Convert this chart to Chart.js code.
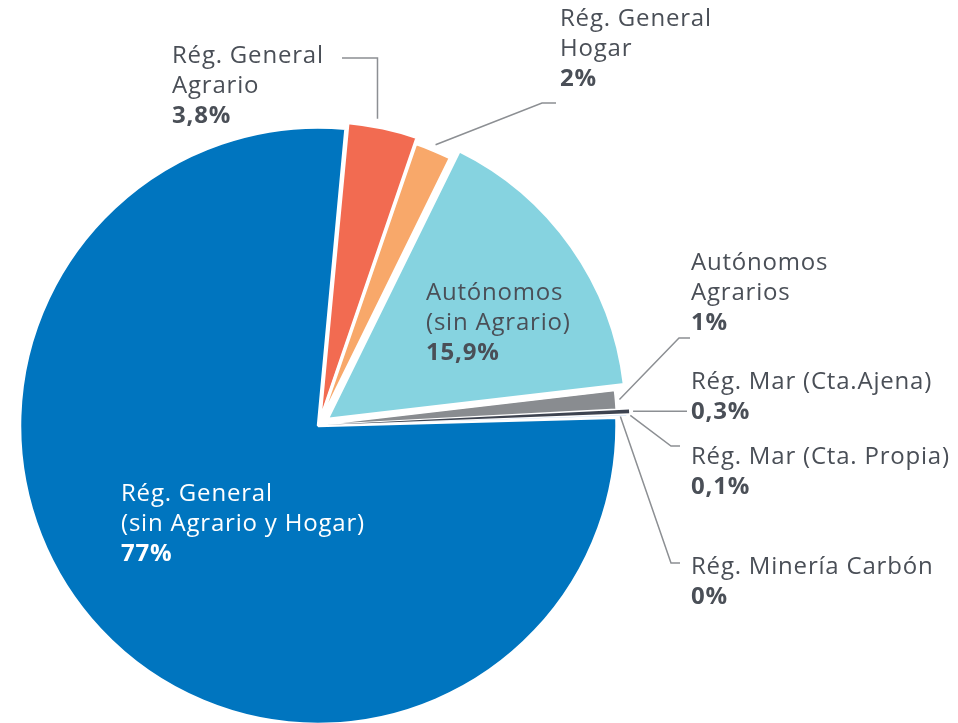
<!DOCTYPE html>
<html>
<head>
<meta charset="utf-8">
<script src="https://cdn.jsdelivr.net/npm/chart.js@4.4.1/dist/chart.umd.min.js"></script>
<style>
  html, body { margin: 0; padding: 0; background: #fff; }
  #wrap { width: 958px; height: 723px; position: relative; }
</style>
</head>
<body>
<div id="wrap"><canvas id="chart"></canvas></div>
<script>
// datos
const categories = [
    'Rég. General (sin Agrario y Hogar)',
    'Rég. General Agrario',
    'Rég. General Hogar',
    'Autónomos (sin Agrario)',
    'Autónomos Agrarios',
    'Rég. Mar (Cta.Ajena)',
    'Rég. Mar (Cta. Propia)',
    'Rég. Minería Carbón'
];
const shares = [77, 3.8, 2, 15.9, 1, 0.3, 0.1, 0];
const shareLabels = ['77%', '3,8%', '2%', '15,9%', '1%', '0,3%', '0,1%', '0%'];
const labelLines = [
    ['Rég. General', '(sin Agrario y Hogar)'],
    ['Rég. General', 'Agrario'],
    ['Rég. General', 'Hogar'],
    ['Autónomos', '(sin Agrario)'],
    ['Autónomos', 'Agrarios'],
    ['Rég. Mar (Cta.Ajena)'],
    ['Rég. Mar (Cta. Propia)'],
    ['Rég. Minería Carbón']
];

// estilos
const sliceColors = ['#0075bf', '#f26b51', '#f8a86a', '#86d3e0', '#898c90', '#3d4350', '#8ab4e6', '#c8c8c8'];
const sliceOffsets = [4, 14, 0, 40, 0, 26, 20, 0];
const sliceBorders = [3, 3, 3, 3, 1.5, 0, 0, 0];
const textColor = '#4a4f57';
const leaderColor = '#8c8f93';
const FONT = '"Open Sans", "Noto Sans", sans-serif';
const FONT_SIZE = 24;
const LINE_H = 30;

// posición de las etiquetas (x, primera línea base) y líneas guía
// at = fracción del ángulo del sector donde arranca la línea guía
const labelLayout = [
    { x: 121, y: 501, color: '#ffffff', leader: null },
    { x: 172, y: 63, color: textColor, leader: { at: 0.4, gap: 8, elbow: [null, 58], endX: 342 } },
    { x: 560, y: 26, color: textColor, leader: { at: 0.5, gap: 6, elbow: [542, 103], endX: 556 } },
    { x: 426, y: 300, color: textColor, leader: null },
    { x: 691, y: 270, color: textColor, leader: { at: 0.5, gap: 4, elbow: [679, 338], endX: 690 } },
    { x: 691, y: 389, color: textColor, leader: { at: 0.5, gap: 4, elbow: null, endX: 687 } },
    { x: 691, y: 464, color: textColor, leader: { at: 0.5, gap: 4, elbow: [671, 446], endX: 680 } },
    { x: 691, y: 574, color: textColor, leader: { at: 0.5, gap: 4, elbow: [671, 563], endX: 680 } }
];

// punto exterior de cada sector, teniendo en cuenta el desplazamiento que aplica Chart.js
const outerPoint = (arc, offset, at, gap) => {
    const mid = (arc.startAngle + arc.endAngle) / 2;
    const circ = arc.endAngle - arc.startAngle;
    const fix = 1 - Math.sin(Math.min(Math.PI, circ || 0));
    const shift = (offset / 4) * (1 + fix);
    const cx = arc.x + Math.cos(mid) * shift;
    const cy = arc.y + Math.sin(mid) * shift;
    const a = arc.startAngle + circ * at;
    const r = arc.outerRadius + gap;
    return { x: cx + Math.cos(a) * r, y: cy + Math.sin(a) * r };
};

const labelPlugin = {
    id: 'pieLabels',
    afterDatasetsDraw(chart) {
        const ctx = chart.ctx;
        const meta = chart.getDatasetMeta(0);
        ctx.save();
        labelLayout.forEach((lay, i) => {
            const arc = meta.data[i];
            if (lay.leader) {
                const p0 = outerPoint(arc, sliceOffsets[i], lay.leader.at, lay.leader.gap);
                ctx.beginPath();
                ctx.strokeStyle = leaderColor;
                ctx.lineWidth = 1.5;
                ctx.moveTo(p0.x, p0.y);
                let ey = p0.y;
                if (lay.leader.elbow) {
                    const ex = lay.leader.elbow[0] === null ? p0.x : lay.leader.elbow[0];
                    ey = lay.leader.elbow[1];
                    ctx.lineTo(ex, ey);
                }
                ctx.lineTo(lay.leader.endX, ey);
                ctx.stroke();
            }
            ctx.fillStyle = lay.color;
            ctx.textAlign = 'left';
            ctx.textBaseline = 'alphabetic';
            ctx.letterSpacing = '0.8px';
            ctx.font = `400 ${FONT_SIZE}px ${FONT}`;
            labelLines[i].forEach((line, k) => {
                ctx.fillText(line, lay.x, lay.y + k * LINE_H);
            });
            ctx.font = `700 ${FONT_SIZE}px ${FONT}`;
            ctx.fillText(shareLabels[i], lay.x, lay.y + labelLines[i].length * LINE_H);
        });
        ctx.restore();
    }
};

new Chart(document.getElementById('chart'), {
    type: 'pie',
    data: {
        labels: categories,
        datasets: [{
            data: shares,
            backgroundColor: sliceColors,
            borderColor: '#ffffff',
            borderWidth: sliceBorders,
            offset: sliceOffsets,
            clip: false
        }]
    },
    options: {
        responsive: true,
        maintainAspectRatio: false,
        animation: false,
        events: [],
        rotation: 88.4,
        radius: 297.5,
        layout: { padding: { left: 0, right: 320, top: 127, bottom: 0 } },
        plugins: {
            legend: { display: false },
            tooltip: { enabled: false }
        }
    },
    plugins: [labelPlugin]
});
</script>
</body>
</html>
